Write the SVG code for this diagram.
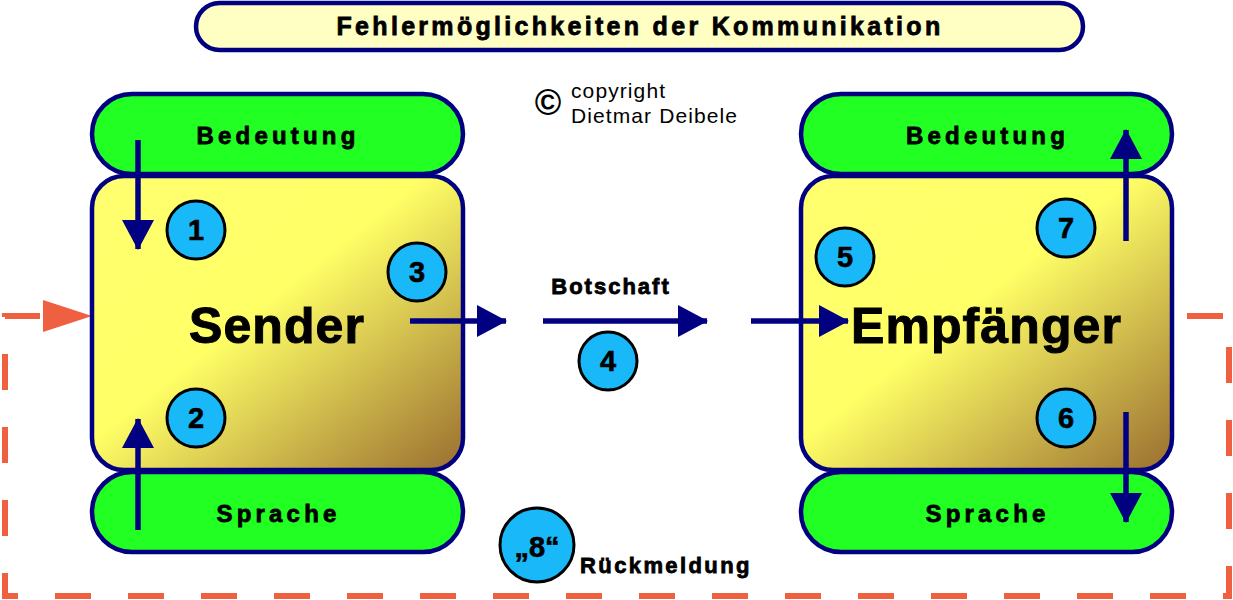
<svg xmlns="http://www.w3.org/2000/svg" width="1233" height="600" viewBox="0 0 1233 600">
<defs>
<linearGradient id="yel" x1="0" y1="0" x2="1" y2="1">
<stop offset="0" stop-color="#FFFF70"/>
<stop offset="0.45" stop-color="#FFFF66"/>
<stop offset="1" stop-color="#9A6E30"/>
</linearGradient>
<marker id="ah" markerUnits="userSpaceOnUse" markerWidth="30" markerHeight="32" refX="29" refY="16" orient="auto">
<path d="M0,0 L30,16 L0,32 Z" fill="#000080"/>
</marker>
</defs>
<style>
.lbl{font-family:"Liberation Sans",Arial,sans-serif;font-weight:bold;fill:#000;text-anchor:middle;stroke:#000;stroke-width:0.8px}
.green{fill:#22FF22;stroke:#000080;stroke-width:4.5}
.box{fill:url(#yel);stroke:#000080;stroke-width:4.5}
.sm{font-size:24px;letter-spacing:4.2px}
.big{font-size:50px;letter-spacing:1.1px;stroke-width:1px}
.num circle{fill:#19B9F9;stroke:#000;stroke-width:3}
.num text{font-family:"Liberation Sans",Arial,sans-serif;font-weight:bold;font-size:29px;text-anchor:middle;fill:#000;stroke:#000;stroke-width:0.6px}
.arr{stroke:#000080;stroke-width:5.5;fill:none;marker-end:url(#ah)}
</style>
<rect width="1233" height="600" fill="#fff"/>

<g id="feedback">
<path d="M40,316 H5 V596 H1229 V316 H1172" fill="none" stroke="#EE6040" stroke-width="6" stroke-dasharray="36 37"/>
<polygon points="92,316 43,300 43,332" fill="#EE6040"/>
</g>

<g id="title">
<rect x="196" y="3" width="887" height="47" rx="23.5" fill="#FFFFC4" stroke="#000080" stroke-width="4.5"/>
<text class="lbl" x="640" y="35" font-size="25" letter-spacing="3.3">Fehlermöglichkeiten der Kommunikation</text>
</g>

<g id="copyright" font-family="Liberation Sans,Arial,sans-serif" font-size="21" letter-spacing="1.1">
<text x="548" y="115" font-size="36" font-weight="bold" text-anchor="middle" letter-spacing="0">©</text>
<text x="571" y="98">copyright</text>
<text x="571" y="123">Dietmar Deibele</text>
</g>

<g id="sender">
<rect class="green" x="92" y="94" width="371" height="80" rx="40"/>
<rect class="green" x="92" y="472" width="371" height="80" rx="40"/>
<rect class="box" x="92" y="176" width="371" height="294" rx="32"/>
<text class="lbl sm" x="278" y="144">Bedeutung</text>
<text class="lbl sm" x="278.5" y="522">Sprache</text>
<text class="lbl big" x="277" y="343">Sender</text>
</g>

<g id="empfaenger">
<rect class="green" x="801" y="94" width="371" height="80" rx="40"/>
<rect class="green" x="801" y="472" width="371" height="80" rx="40"/>
<rect class="box" x="801" y="176" width="371" height="294" rx="32"/>
<text class="lbl sm" x="987.5" y="144">Bedeutung</text>
<text class="lbl sm" x="987.5" y="522">Sprache</text>
<text class="lbl big" x="986.5" y="343">Empfänger</text>
</g>

<g id="connectors">
<path class="arr" d="M138,140 V249"/>
<path class="arr" d="M138,530 V419"/>
<path class="arr" d="M410,321 H506"/>
<path class="arr" d="M543,321 H707"/>
<path class="arr" d="M751,321 H848"/>
<path class="arr" d="M1126,412 V522"/>
<path class="arr" d="M1126,241 V130"/>
</g>

<text class="lbl" x="611" y="294" font-size="22" letter-spacing="2">Botschaft</text>
<text class="lbl" x="580" y="573" font-size="22" letter-spacing="2.4" style="text-anchor:start">Rückmeldung</text>

<g id="n1" class="num"><circle cx="196" cy="230" r="29"/><text x="196" y="240">1</text></g>
<g id="n2" class="num"><circle cx="196" cy="418" r="29"/><text x="196" y="428">2</text></g>
<g id="n3" class="num"><circle cx="417" cy="272" r="29"/><text x="417" y="282">3</text></g>
<g id="n4" class="num"><circle cx="608" cy="361" r="29"/><text x="608" y="371">4</text></g>
<g id="n5" class="num"><circle cx="845" cy="257" r="29"/><text x="845" y="267">5</text></g>
<g id="n6" class="num"><circle cx="1066" cy="418" r="29"/><text x="1066" y="428">6</text></g>
<g id="n7" class="num"><circle cx="1066" cy="228" r="29"/><text x="1066" y="238">7</text></g>
<g id="n8" class="num"><circle cx="537" cy="545" r="37"/><text x="537" y="557" font-size="35">„8“</text></g>
</svg>
